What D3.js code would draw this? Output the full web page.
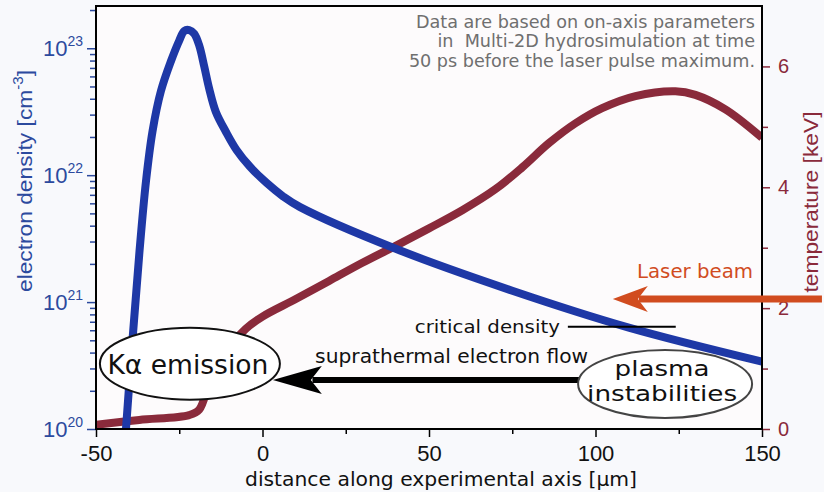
<!DOCTYPE html>
<html>
<head>
<meta charset="utf-8">
<style>
  html, body { margin: 0; padding: 0; background: #f8f9fc; }
  svg { display: block; }
  text { font-family: 'DejaVu Sans', sans-serif; }
  .axis text, .axis-title { font-family: 'Liberation Sans', Arial, sans-serif; }
</style>
<script src="https://cdn.jsdelivr.net/npm/d3@7.9.0/dist/d3.min.js"></script>
</head>
<body>
<div id="chart"></div>
<script>
// electron density along the axis (cm^-3)
const densityX = [-41, -39, -37, -35, -33, -30.5, -27.5, -25, -23.5, -22, -20.5, -19, -17.5, -16, -14, -11, -7.8, -3.8, 1.2, 6.2, 11.3, 40, 75, 110, 150];
const densityY = [1.0e20, 5.2e20, 2.4e21, 8.9e21, 2.24e22, 4.6e22, 7.9e22, 1.15e23, 1.37e23, 1.39e23, 1.3e23, 1.05e23, 7.2e22, 4.8e22, 3.15e22, 2.2e22, 1.58e22, 1.17e22, 8.7e21, 6.8e21, 5.6e21, 2.63e21, 1.23e21, 6.3e20, 3.4e20];

// temperature along the axis (keV)
const tempX = [-50, -37, -22, -19, -16, -13, -10, -5, 0, 10, 20, 30, 40, 50, 60, 70, 78, 86, 94, 102, 112, 124, 130, 139, 150];
const tempY = [0.07, 0.15, 0.23, 0.32, 0.76, 1.1, 1.36, 1.66, 1.86, 2.15, 2.45, 2.75, 3.03, 3.32, 3.62, 3.97, 4.33, 4.73, 5.06, 5.31, 5.51, 5.59, 5.53, 5.29, 4.82];

const xTicks = [-50, 0, 50, 100, 150];
const xMinorTicks = [-25, 25, 75, 125];
const densityExps = [20, 21, 22, 23];
const tempTicks = [0, 2, 4, 6];
const tempMinorTicks = [1, 3, 5];
const noteLines = ['Data are based on on-axis parameters',
                   'in  Multi-2D hydrosimulation at time',
                   '50 ps before the laser pulse maximum.'];
const criticalDensity = 6.4e20;

const width = 824, height = 492;
const plot = { left: 96, right: 762, top: 6, bottom: 429 };

const blue = '#1e38a6', red = '#8a2a3b', orange = '#d14c1f';
const axisBlue = '#2c4a9e';

// stretch a text to the width it has in the figure
function fit(sel, w) {
  sel.attr('textLength', w).attr('lengthAdjust', 'spacingAndGlyphs');
}

const svg = d3.select('#chart').append('svg')
  .attr('width', width).attr('height', height);

const xScale = d3.scaleLinear().domain([-50, 150]).range([plot.left, plot.right]);
const yDen = d3.scaleLog().domain([1e20, Math.pow(10, 23.333)]).range([plot.bottom, plot.top]);
const yTemp = d3.scaleLinear().domain([0, 7]).range([plot.bottom, plot.top]);

svg.append('rect')
  .attr('x', plot.left).attr('y', plot.top)
  .attr('width', plot.right - plot.left).attr('height', plot.bottom - plot.top)
  .attr('fill', '#fdfbfc');

svg.append('clipPath').attr('id', 'clip')
  .append('rect')
  .attr('x', plot.left).attr('y', plot.top)
  .attr('width', plot.right - plot.left).attr('height', plot.bottom - plot.top);

// curves
const tempLine = d3.line()
  .x((d, i) => xScale(tempX[i]))
  .y(d => yTemp(d))
  .curve(d3.curveCatmullRom.alpha(0.5));

const denLine = d3.line()
  .x((d, i) => xScale(densityX[i]))
  .y(d => yDen(d))
  .curve(d3.curveCatmullRom.alpha(0.5));

const curves = svg.append('g').attr('clip-path', 'url(#clip)');
curves.append('path')
  .attr('d', tempLine(tempY))
  .attr('fill', 'none').attr('stroke', red)
  .attr('stroke-width', 8).attr('stroke-linejoin', 'round');
curves.append('path')
  .attr('d', denLine(densityY))
  .attr('fill', 'none').attr('stroke', blue)
  .attr('stroke-width', 8).attr('stroke-linejoin', 'round');

// x axis
const xAxisG = svg.append('g').attr('class', 'axis')
  .attr('transform', `translate(0,${plot.bottom})`)
  .attr('color', '#000')
  .call(d3.axisBottom(xScale).tickValues(xTicks).tickSize(8).tickPadding(8.4).tickFormat(d => String(d)));
xAxisG.selectAll('text').attr('font-size', 22).attr('fill', '#111');
xAxisG.selectAll('line').attr('stroke-width', 1.5);
const xMinorG = svg.append('g').attr('class', 'axis')
  .attr('transform', `translate(0,${plot.bottom})`)
  .attr('color', '#000')
  .call(d3.axisBottom(xScale).tickValues(xMinorTicks).tickSize(5).tickFormat(''));
xMinorG.selectAll('line').attr('stroke-width', 1.5);
svg.selectAll('.axis .domain').remove();

// left (log) axis
const minorDen = [];
densityExps.forEach(e => {
  for (let m = 2; m <= 9; m++) {
    const v = m * Math.pow(10, e);
    if (v <= yDen.domain()[1]) minorDen.push(v);
  }
});
const leftMajor = svg.append('g').attr('class', 'axis')
  .attr('transform', `translate(${plot.left},0)`)
  .attr('color', axisBlue)
  .call(d3.axisLeft(yDen).tickValues(densityExps.map(e => Math.pow(10, e))).tickSize(9).tickFormat(''));
leftMajor.selectAll('line').attr('stroke-width', 1.5);
const leftMinor = svg.append('g').attr('class', 'axis')
  .attr('transform', `translate(${plot.left},0)`)
  .attr('color', axisBlue)
  .call(d3.axisLeft(yDen).tickValues(minorDen).tickSize(6).tickFormat(''));
leftMinor.selectAll('line').attr('stroke-width', 1.5);
svg.selectAll('.axis .domain').remove();

const denLabels = svg.append('g').attr('class', 'axis');
densityExps.forEach(e => {
  const t = denLabels.append('text')
    .attr('x', 83).attr('y', yDen(Math.pow(10, e)) + 8)
    .attr('text-anchor', 'end').attr('fill', axisBlue).attr('font-size', 22);
  t.append('tspan').text('10');
  t.append('tspan').attr('dy', -10).attr('font-size', 14).text(e);
});

// right axis
const rightG = svg.append('g').attr('class', 'axis')
  .attr('transform', `translate(${plot.right},0)`)
  .attr('color', red)
  .call(d3.axisRight(yTemp).tickValues(tempTicks).tickSize(8).tickPadding(8).tickFormat(d3.format('d')));
rightG.selectAll('text').attr('font-size', 20).attr('fill', red);
rightG.selectAll('line').attr('stroke-width', 1.5);
const rightMinor = svg.append('g').attr('class', 'axis')
  .attr('transform', `translate(${plot.right},0)`)
  .attr('color', red)
  .call(d3.axisRight(yTemp).tickValues(tempMinorTicks).tickSize(6).tickFormat(''));
rightMinor.selectAll('line').attr('stroke-width', 1.5);
svg.selectAll('.axis .domain').remove();

// frame
svg.append('rect')
  .attr('x', plot.left).attr('y', plot.top)
  .attr('width', plot.right - plot.left).attr('height', plot.bottom - plot.top)
  .attr('fill', 'none').attr('stroke', '#000').attr('stroke-width', 2);

// axis titles
svg.append('text')
  .attr('x', 441).attr('y', 486).attr('text-anchor', 'middle')
  .attr('font-size', 20).attr('fill', '#111')
  .text('distance along experimental axis [µm]')
  .call(fit, 392);

const leftTitle = svg.append('text').attr('class', 'axis-title')
  .attr('transform', 'translate(32,181) rotate(-90)')
  .attr('text-anchor', 'middle').attr('font-size', 21).attr('fill', axisBlue);
leftTitle.append('tspan').text('electron density [cm');
leftTitle.append('tspan').attr('dy', -9).attr('font-size', 14).text('-3');
leftTitle.append('tspan').attr('dy', 9).text(']');
leftTitle.call(fit, 222);

svg.append('text').attr('class', 'axis-title')
  .attr('transform', 'translate(818,202) rotate(-90)')
  .attr('text-anchor', 'middle').attr('font-size', 21).attr('fill', red)
  .text('temperature [keV]')
  .call(fit, 181);

// note
svg.append('g').selectAll('text').data(noteLines).join('text')
  .attr('x', xScale(147.9)).attr('y', (d, i) => 28 + i * 19.3)
  .attr('text-anchor', 'end').attr('font-size', 17.6).attr('fill', '#6f6f6f')
  .style('white-space', 'pre')
  .text(d => d);

// laser beam arrow
const laserY = yTemp(2.15);
svg.append('line')
  .attr('x1', xScale(168)).attr('x2', xScale(113))
  .attr('y1', laserY).attr('y2', laserY)
  .attr('stroke', orange).attr('stroke-width', 7);
const lt = xScale(105.2);
svg.append('path')
  .attr('d', `M${lt},${laserY} L${lt + 35},${laserY - 13} L${lt + 25},${laserY} L${lt + 35},${laserY + 13} Z`)
  .attr('fill', orange);
svg.append('text')
  .attr('x', xScale(147.3)).attr('y', yTemp(2.5))
  .attr('text-anchor', 'end').attr('font-size', 19.5).attr('fill', orange)
  .text('Laser beam')
  .call(fit, 116);

// critical density marker
svg.append('line')
  .attr('x1', xScale(91.7)).attr('x2', xScale(124.1))
  .attr('y1', yDen(criticalDensity)).attr('y2', yDen(criticalDensity))
  .attr('stroke', '#000').attr('stroke-width', 2);
svg.append('text')
  .attr('x', xScale(89.3)).attr('y', yDen(criticalDensity) + 6)
  .attr('text-anchor', 'end').attr('font-size', 18.5).attr('fill', '#111')
  .text('critical density')
  .call(fit, 145);

// suprathermal electron flow arrow
const flowY = yTemp(0.81);
svg.append('line')
  .attr('x1', xScale(96)).attr('x2', xScale(15))
  .attr('y1', flowY).attr('y2', flowY)
  .attr('stroke', '#000').attr('stroke-width', 6);
const ft = xScale(3.1);
svg.append('path')
  .attr('d', `M${ft},${flowY} L${ft + 49},${flowY - 14} L${ft + 38},${flowY} L${ft + 49},${flowY + 14} Z`)
  .attr('fill', '#000');
svg.append('text')
  .attr('x', xScale(15.8)).attr('y', yTemp(1.09))
  .attr('font-size', 19).attr('fill', '#111')
  .text('suprathermal electron flow')
  .call(fit, 273);

// Kα emission bubble
const ka = { x: xScale(-21.8), y: yTemp(1.08) };
svg.append('ellipse')
  .attr('cx', ka.x).attr('cy', ka.y).attr('rx', 90).attr('ry', 36)
  .attr('fill', '#fff').attr('stroke', '#111').attr('stroke-width', 2);
svg.append('text')
  .attr('x', ka.x - 2).attr('y', ka.y + 10)
  .attr('text-anchor', 'middle').attr('font-size', 26).attr('fill', '#111')
  .text('Kα emission')
  .call(fit, 161);

// plasma instabilities bubble
const pi = { x: xScale(120.9), y: yTemp(0.745) };
svg.append('ellipse')
  .attr('cx', pi.x).attr('cy', pi.y).attr('rx', 87).attr('ry', 34)
  .attr('fill', '#fff').attr('stroke', '#444').attr('stroke-width', 2);
svg.append('text')
  .attr('x', pi.x - 3).attr('y', pi.y - 8)
  .attr('text-anchor', 'middle').attr('font-size', 21.5).attr('fill', '#111')
  .text('plasma')
  .call(fit, 95);
svg.append('text')
  .attr('x', pi.x - 3).attr('y', pi.y + 17)
  .attr('text-anchor', 'middle').attr('font-size', 21.5).attr('fill', '#111')
  .text('instabilities')
  .call(fit, 150);
</script>
</body>
</html>
